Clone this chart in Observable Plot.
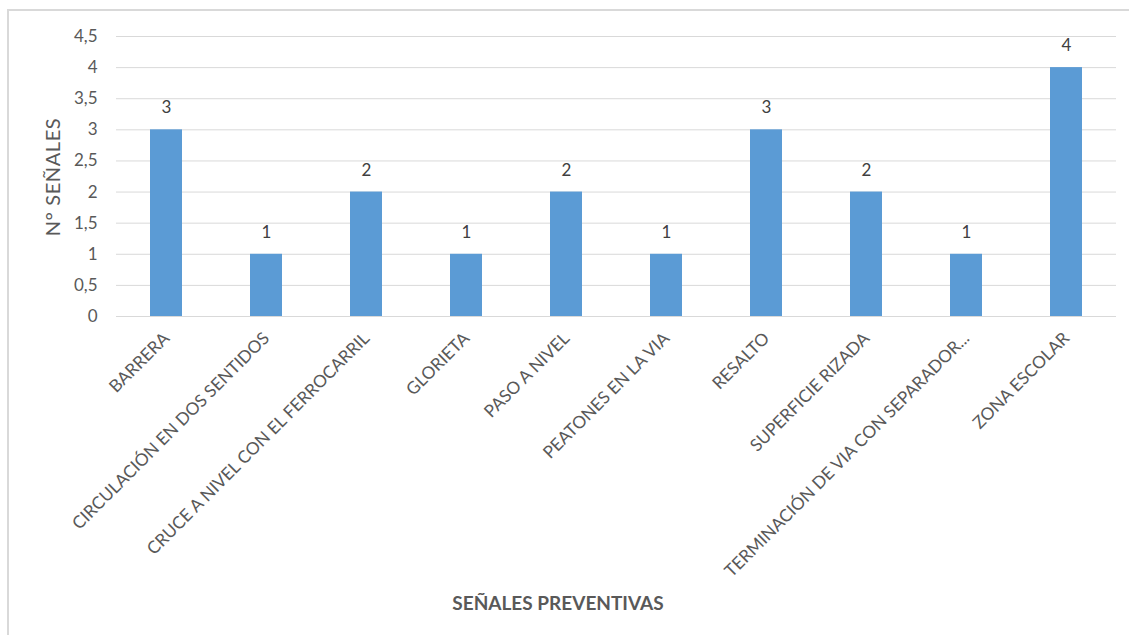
<!DOCTYPE html>
<html>
<head>
<meta charset="utf-8">
<script src="https://cdn.jsdelivr.net/npm/d3@7"></script>
<script src="https://cdn.jsdelivr.net/npm/@observablehq/plot@0.6"></script>
<style>
  html, body { margin: 0; padding: 0; background: #fff; }
  body { width: 1129px; height: 635px; position: relative; overflow: hidden; font-family: Lato, "Open Sans", sans-serif; }
  #frame { position: absolute; left: 7px; top: 9px; width: 1140px; height: 640px;
           border-left: 2px solid #d9d9d9; border-top: 2px solid #d9d9d9; pointer-events: none; }
  #chart { position: absolute; left: 0; top: 0; }
  .ytitle { position: absolute; left: 52px; top: 177px; transform: translate(-50%, -50%) rotate(-90deg);
            font-size: 20px; color: #595959; white-space: nowrap; letter-spacing: 0.6px; }
  .xtitle { position: absolute; left: 558px; top: 602px; transform: translate(-50%, -50%);
            font-size: 19px; font-weight: bold; color: #595959; white-space: nowrap; }
</style>
</head>
<body>
<div id="frame"></div>
<div id="chart"></div>
<div class="ytitle">N°  SEÑALES</div>
<div class="xtitle">SEÑALES PREVENTIVAS</div>
<script>
// Señales preventivas: número de señales por tipo
const categories = [
  "BARRERA",
  "CIRCULACIÓN EN DOS SENTIDOS",
  "CRUCE A NIVEL CON EL FERROCARRIL",
  "GLORIETA",
  "PASO A NIVEL",
  "PEATONES EN LA VIA",
  "RESALTO",
  "SUPERFICIE RIZADA",
  "TERMINACIÓN DE VIA CON SEPARADOR...",
  "ZONA ESCOLAR"
];
const counts = [3, 1, 2, 1, 2, 1, 3, 2, 1, 4];
const yTicks = [0, 0.5, 1, 1.5, 2, 2.5, 3, 3.5, 4, 4.5];

const data = categories.map((c, i) => ({ category: c, value: counts[i] }));
const comma = d => String(d).replace(".", ",");

const chart = Plot.plot({
  width: 1129,
  height: 635,
  marginLeft: 116,
  marginRight: 13,
  marginTop: 36,
  marginBottom: 319,
  style: { fontFamily: "Lato, 'Open Sans', sans-serif", background: "transparent", overflow: "visible" },
  x: { domain: categories, paddingInner: 0.68, paddingOuter: 0.34, label: null },
  y: { domain: [0, 4.5], label: null },
  marks: [
    Plot.gridY(yTicks, { stroke: "#d9d9d9", strokeOpacity: 1, strokeWidth: 1 }),
    Plot.barY(data, { x: "category", y: "value", fill: "#5b9bd5" }),
    Plot.text(data, { x: "category", y: "value", text: d => comma(d.value), dy: -22,
                      fontSize: 17, fill: "#404040" }),
    Plot.axisY(yTicks, { tickSize: 0, tickPadding: 19, tickFormat: comma, fontSize: 17,
                         color: "#595959", label: null }),
    Plot.axisX({ tickSize: 0, tickPadding: 19, tickRotate: -45, fontSize: 17.2,
                 color: "#595959", label: null })
  ]
});
document.getElementById("chart").appendChild(chart);
</script>
</body>
</html>
